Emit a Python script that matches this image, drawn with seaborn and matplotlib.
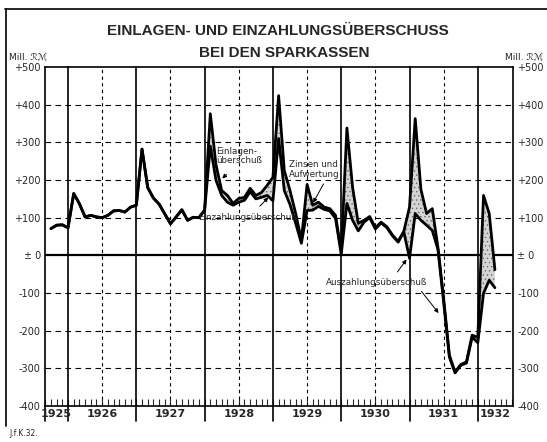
"""
Einlagen- und Einzahlungsüberschuss bei den Sparkassen (1925-1932)
Nachbau der historischen Grafik (J.f.K. 32)
"""

import numpy as np
import pandas as pd
import matplotlib
matplotlib.use("Agg")
import matplotlib.pyplot as plt
from matplotlib.lines import Line2D
import seaborn as sns

# ── Daten (Mill. RM, Monatswerte) ─────────────────────────────────────────────
MONATE = pd.period_range("1925-09", "1932-03", freq="M")

# bis Ende 1927 nur eine Linie (beide Reihen gleich)
UEBERSCHUSS_BIS_1927 = [
    71, 80, 81, 73,                                              # 1925 (Sep-Dez)
    164, 137, 102, 106, 102, 100, 106, 118, 119, 115, 128, 133,  # 1926
    282, 180, 152, 136, 110, 84, 102, 121, 93, 101, 100, 120,    # 1927
]

# ab 1928: Einlagenüberschuss (obere Linie, inkl. Zinsen und Aufwertung)
EINLAGEN_AB_1928 = [
    376, 240, 172, 159, 138, 151, 154, 178, 159, 167, 186, 207,  # 1928
    424, 225, 172, 111, 40, 188, 133, 141, 128, 124, 106, 10,    # 1929
    338, 180, 85, 93, 103, 73, 88, 76, 54, 37, 64, 128,          # 1930
    363, 175, 111, 124, 20, -115, -265, -310, -290, -283, -212, -218,  # 1931
    159, 111, -38,                                               # 1932
]

# ab 1928: Einzahlungsüberschuss (untere Linie)
EINZAHLUNG_AB_1928 = [
    290, 199, 159, 141, 133, 141, 146, 169, 150, 154, 159, 145,  # 1928
    310, 172, 135, 85, 32, 119, 120, 130, 122, 118, 98, 3,       # 1929
    138, 93, 65, 88, 100, 70, 86, 74, 52, 35, 62, -8,            # 1930
    111, 93, 80, 66, 15, -125, -270, -312, -292, -286, -217, -232,  # 1931
    -101, -66, -86,                                              # 1932
]

JAHRE = [1925, 1926, 1927, 1928, 1929, 1930, 1931, 1932]
Y_TICKS = [500, 400, 300, 200, 100, 0, -100, -200, -300, -400]
Y_LABELS = ["+500", "+400", "+300", "+200", "+100", "± 0",
            "-100", "-200", "-300", "-400"]
X_MIN, X_MAX = 1925.663, 1932.515
# ──────────────────────────────────────────────────────────────────────────────

df = pd.DataFrame({
    "monat": MONATE,
    "einlagen": UEBERSCHUSS_BIS_1927 + EINLAGEN_AB_1928,
    "einzahlung": UEBERSCHUSS_BIS_1927 + EINZAHLUNG_AB_1928,
})
# Punkt am Monatsende
df["x"] = df["monat"].dt.year + df["monat"].dt.month / 12

sns.set_style("white")
plt.rcParams["font.family"] = ["DejaVu Sans"]
plt.rcParams["hatch.linewidth"] = 0.5

fig = plt.figure(figsize=(5.47, 4.42), dpi=100)
ax = fig.add_axes([45 / 547, 1 - 406 / 442, (513 - 45) / 547, (406 - 67) / 442])

# ── Raster ────────────────────────────────────────────────────────────────────
for v in Y_TICKS:
    if v in (500, -400):
        continue
    if v == 0:
        ax.axhline(0, color="black", lw=1.6, zorder=1)
    else:
        ax.axhline(v, color="black", lw=0.8, ls=(0, (5, 4)), zorder=1)

for jahr in JAHRE[1:]:
    ax.axvline(jahr, ymin=-0.045, ymax=1, color="black", lw=1.2,
               clip_on=False, zorder=1)
for jahr in JAHRE[1:-1]:
    ax.axvline(jahr + 0.5, color="black", lw=0.8, ls=(0, (3, 3)), zorder=1)
ax.axvline(X_MIN, ymin=-0.045, ymax=0, color="black", lw=1.2, clip_on=False)

# ── Zinsen und Aufwertung (Fläche) + Linien ──────────────────────────────────
ax.fill_between(df["x"], df["einzahlung"], df["einlagen"],
                facecolor="#d4d4d4", edgecolor="#6a6a6a", hatch="....",
                linewidth=0, zorder=2)
sns.lineplot(data=df, x="x", y="einlagen", color="black", lw=2.0, ax=ax, zorder=3)
sns.lineplot(data=df, x="x", y="einzahlung", color="black", lw=2.0, ax=ax, zorder=3)

# ── Achsen ────────────────────────────────────────────────────────────────────
ax.set_xlim(X_MIN, X_MAX)
ax.set_ylim(-400, 500)
ax.set_xlabel("")
ax.set_ylabel("")
ax.set_yticks(Y_TICKS)
ax.set_yticklabels(Y_LABELS)
ax.tick_params(axis="y", length=0, labelsize=7, pad=3,
               labelleft=True, labelright=True)
ax.set_xticks([])
ax.set_xticks(np.arange(1925 + 8 / 12, X_MAX, 1 / 12), minor=True)
ax.tick_params(axis="x", which="minor", direction="in", length=5, width=0.8,
               bottom=True, top=False)
for s in ax.spines.values():
    s.set_visible(True)
    s.set_color("black")
    s.set_linewidth(1.2)

# Jahreszahlen unter der Achse
for jahr in JAHRE:
    lo = max(jahr, X_MIN)
    hi = min(jahr + 1, X_MAX)
    ax.text((lo + hi) / 2, -0.023, str(jahr), transform=ax.get_xaxis_transform(),
            ha="center", va="center", fontsize=8, fontweight="bold")

# ── Beschriftungen im Diagramm ───────────────────────────────────────────────
pfeil = dict(arrowstyle="-|>", lw=0.7, color="black", mutation_scale=6)
ax.text(1928.17, 265, "Einlagen-\nüberschuß", fontsize=6.3, ha="left",
        va="center", linespacing=1.0, zorder=4)
ax.annotate("", xy=(1928.23, 199), xytext=(1928.35, 220), arrowprops=pfeil, zorder=4)

ax.text(1929.60, 228, "Zinsen und\nAufwertung", fontsize=6.3, ha="center",
        va="center", linespacing=1.1, zorder=4)
ax.annotate("", xy=(1929.57, 133), xytext=(1929.76, 196), arrowprops=pfeil, zorder=4)

ax.text(1928.63, 101, "Einzahlungsüberschuß", fontsize=6.3, ha="center",
        va="center", zorder=4)
ax.annotate("", xy=(1928.96, 159), xytext=(1928.78, 125), arrowprops=pfeil, zorder=4)

ax.text(1930.52, -72, "Auszahlungsüberschuß", fontsize=6.3, ha="center",
        va="center", zorder=4)
ax.annotate("", xy=(1930.98, -5), xytext=(1930.80, -50), arrowprops=pfeil, zorder=4)
ax.annotate("", xy=(1931.45, -159), xytext=(1931.15, -90), arrowprops=pfeil, zorder=4)

# ── Titel, Einheiten, Rahmen ─────────────────────────────────────────────────
fig.text(0.508, 1 - 31 / 442, "EINLAGEN- UND EINZAHLUNGSÜBERSCHUSS",
         ha="center", va="center", fontsize=11, fontweight="bold",
         family=["Liberation Sans", "DejaVu Sans"])
fig.text(0.52, 1 - 53 / 442, "BEI DEN SPARKASSEN",
         ha="center", va="center", fontsize=11, fontweight="bold",
         family=["Liberation Sans", "DejaVu Sans"])
fig.text(9 / 547, 1 - 57 / 442, "Mill. ℛℳ", fontsize=6.5, va="center")
fig.text(505 / 547, 1 - 57 / 442, "Mill. ℛℳ", fontsize=6.5, va="center")
fig.text(9 / 547, 1 - 433 / 442, "J.f.K.32.", fontsize=5.5, va="center")

fig.add_artist(Line2D([5 / 547, 1], [1 - 9 / 442, 1 - 9 / 442],
                      color="black", lw=1.2))
fig.add_artist(Line2D([6 / 547, 6 / 547], [1 - 9 / 442, 1 - 426 / 442],
                      color="black", lw=1.2))

fig.savefig("out.png", dpi=100, facecolor="white")
